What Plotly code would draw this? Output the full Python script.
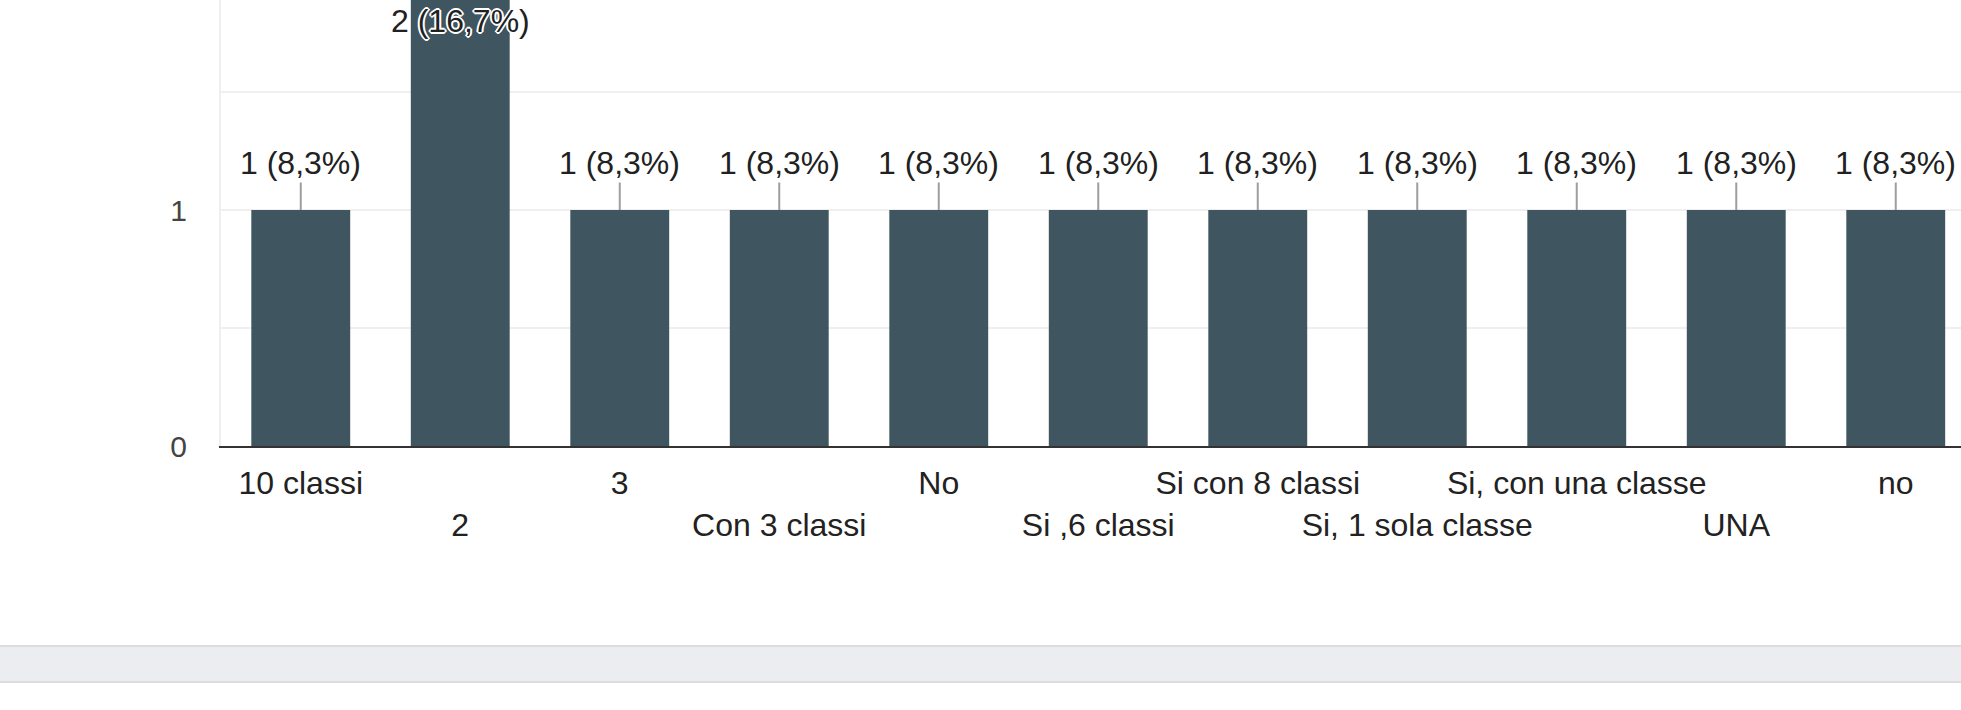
import plotly.graph_objects as go

categories = ["10 classi", "2", "3", "Con 3 classi", "No", "Si ,6 classi",
              "Si con 8 classi", "Si, 1 sola classe", "Si, con una classe", "UNA", "no"]
counts = [1, 2, 1, 1, 1, 1, 1, 1, 1, 1, 1]
pct_labels = ["8,3%", "16,7%", "8,3%", "8,3%", "8,3%", "8,3%",
              "8,3%", "8,3%", "8,3%", "8,3%", "8,3%"]
y_ticks = [0, 0.5, 1, 1.5, 2]
y_tick_text = ["0", "", "1", "", "2"]

W, H = 1961, 710
ML, MT, MB = 221, 0, 264
plot_h = H - MT - MB
px_per_unit = 236.0
y_top = plot_h / px_per_unit
band = 159.5
x_right = (W - ML) / band - 0.5

FONT = "Liberation Sans, Arial, sans-serif"
BAR = "#3f5660"
FS = 32

idx = list(range(len(categories)))

fig = go.Figure(go.Bar(
    x=idx, y=counts, marker=dict(color=BAR, line=dict(width=0)),
    hoverinfo="skip", cliponaxis=True,
))

tick_text = [c if i % 2 == 0 else "<br>" + c for i, c in enumerate(categories)]

annotations = []
for i, v, p in zip(idx, counts, pct_labels):
    txt = f"{v} ({p})"
    if v + 0.2 < y_top:
        annotations.append(dict(
            x=i, y=v, xref="x", yref="y", text=txt, showarrow=True,
            arrowhead=0, arrowwidth=2, arrowcolor="#9e9e9e", ax=0, ay=-47,
            standoff=0, font=dict(family=FONT, size=FS, color="#212121"),
        ))
    else:
        annotations.append(dict(
            x=i, y=y_top - 21 / px_per_unit, xref="x", yref="y", text=txt,
            showarrow=False,
            font=dict(family=FONT, size=FS, color="#212121",
                      shadow="2px 0 0 #fff, -2px 0 0 #fff, 0 2px 0 #fff, 0 -2px 0 #fff, "
                             "1px 1px 0 #fff, -1px -1px 0 #fff, 1px -1px 0 #fff, -1px 1px 0 #fff"),
        ))

# page chrome band below the chart
bt, bb = 646, 682
y0p = (plot_h - (bb - MT)) / plot_h
y1p = (plot_h - (bt - MT)) / plot_h
shapes = [
    dict(type="rect", xref="paper", yref="paper", x0=-0.2, x1=1.1, y0=y0p, y1=y1p,
         fillcolor="#ecedf0", line=dict(width=0), layer="below"),
    dict(type="line", xref="paper", yref="paper", x0=-0.2, x1=1.1, y0=y1p, y1=y1p,
         line=dict(color="#dadce0", width=2)),
    dict(type="line", xref="paper", yref="paper", x0=-0.2, x1=1.1, y0=y0p, y1=y0p,
         line=dict(color="#dadce0", width=2)),
]

fig.update_layout(
    width=W, height=H,
    margin=dict(l=ML, r=0, t=MT, b=MB, pad=0, autoexpand=False),
    paper_bgcolor="white", plot_bgcolor="white",
    bargap=0.38, showlegend=False,
    annotations=annotations, shapes=shapes,
    font=dict(family=FONT, size=FS, color="#222222"),
    xaxis=dict(
        type="linear", range=[-0.5, x_right], tickmode="array",
        tickvals=idx, ticktext=tick_text, showgrid=False, tickangle=0,
        showline=True, linecolor="#333333", linewidth=2, ticks="",
        tickfont=dict(family=FONT, size=FS, color="#222222"),
        ticklabelstandoff=8, fixedrange=True, automargin=False, zeroline=False,
    ),
    yaxis=dict(
        range=[0, y_top], tickmode="array", tickvals=y_ticks, ticktext=y_tick_text,
        showgrid=True, gridcolor="#efefef", gridwidth=2, zeroline=False,
        showline=True, linecolor="#efefef", linewidth=2, ticks="",
        tickfont=dict(family=FONT, size=30, color="#444444"),
        ticklabelstandoff=26, fixedrange=True, automargin=False,
    ),
)

fig.write_html("out.html", config={"displayModeBar": False},
               post_script="document.body.style.margin='0';document.body.style.overflow='hidden';")
